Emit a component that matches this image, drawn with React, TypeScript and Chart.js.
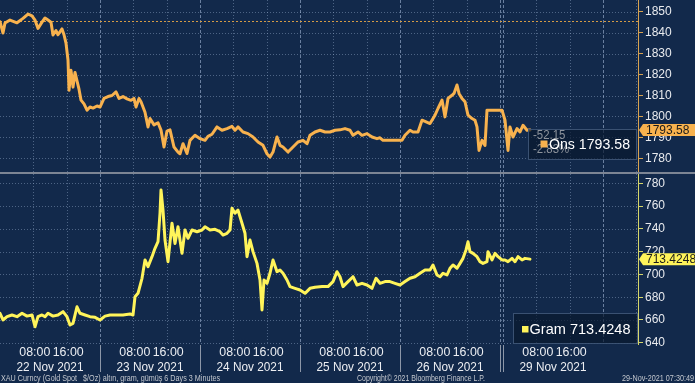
import React, { useEffect, useRef } from 'react';
import { Chart, registerables } from 'chart.js';

Chart.register(...registerables);

// ---------------- data ----------------
// time offsets in trading hours from 22 Nov 2021 00:00 (weekend collapsed)
const ONS_HOURS = [
  0, 0.72, 1.2, 2.4, 4.08, 5.52, 6.72, 7.68, 8.4, 9.12, 10.08, 10.8, 11.52, 12.24, 12.72, 13.44, 13.92, 14.88, 15.36, 15.84,
  16.32, 16.56, 17.04, 17.52, 18, 18.48, 18.96, 19.44, 20.16, 20.88, 21.6, 22.32, 23.28, 24, 24.96, 25.92, 26.88, 27.84, 28.56, 29.52,
  30.48, 31.44, 32.16, 32.64, 33.36, 33.84, 34.8, 35.52, 36, 36.96, 37.92, 38.64, 39.36, 40.08, 40.8, 41.76, 42.72, 43.2, 43.92, 44.88,
  45.6, 46.8, 48, 49.2, 49.92, 50.88, 52.08, 53.28, 54.48, 55.68, 56.4, 57.12, 58.32, 59.52, 60.72, 61.92, 63.12, 64.08, 64.8, 65.52,
  66.48, 67.2, 67.92, 69.12, 70.32, 71.52, 72.72, 73.68, 74.4, 75.6, 76.8, 78, 79.2, 80.4, 81.6, 82.8, 84, 84.72, 85.92, 86.88,
  88.08, 89.28, 90.48, 91.2, 91.92, 96.48, 97.2, 98.4, 99.12, 100.32, 101.28, 102, 103.2, 104.4, 105.12, 106.08, 106.8, 107.52, 108.48, 108.96,
  109.68, 110.16, 110.88, 111.6, 112.32, 113.28, 114, 114.48, 114.96, 115.68, 116.4, 116.88, 120.48, 121.2, 121.92, 122.4, 123.12, 124.08, 124.8, 125.52,
  126.48, 127.2,
];
const ONS_VALUES = [
  1845.2, 1839.8, 1844.6, 1846.0, 1844.7, 1846.8, 1848.9, 1848.0, 1846.0, 1842.0, 1845.0, 1847.0, 1846.0, 1845.0, 1838.9, 1841.0, 1839.0, 1841.8, 1839.0, 1835.0,
  1826.9, 1812.5, 1822.0, 1814.0, 1821.0, 1817.0, 1813.0, 1807.8, 1806.0, 1803.0, 1804.5, 1804.0, 1805.0, 1804.5, 1808.6, 1809.5, 1810.0, 1811.7, 1808.6, 1809.5,
  1808.4, 1807.7, 1808.6, 1804.5, 1808.6, 1807.0, 1802.0, 1795.0, 1799.0, 1796.0, 1797.0, 1793.5, 1785.4, 1793.0, 1793.6, 1785.4, 1783.0, 1782.2, 1787.0, 1782.3,
  1788.6, 1791.0, 1789.4, 1788.6, 1790.5, 1791.5, 1795.0, 1793.4, 1794.2, 1795.3, 1793.4, 1795.0, 1792.6, 1791.8, 1790.2, 1787.8, 1786.2, 1782.2, 1780.6, 1783.0,
  1790.2, 1786.2, 1785.4, 1783.0, 1785.4, 1787.8, 1788.6, 1787.0, 1791.0, 1792.6, 1793.4, 1792.6, 1792.6, 1793.4, 1793.6, 1794.2, 1793.4, 1791.0, 1792.6, 1791.0,
  1791.8, 1790.2, 1789.4, 1789.8, 1788.6, 1788.6, 1791.0, 1793.4, 1792.6, 1792.6, 1798.2, 1797.6, 1796.6, 1800.6, 1803.8, 1807.8, 1799.8, 1808.6, 1810.1, 1811.0,
  1815.0, 1811.0, 1808.6, 1807.0, 1800.6, 1799.0, 1798.2, 1795.0, 1783.8, 1788.6, 1786.2, 1803.0, 1803.0, 1798.2, 1783.8, 1795.0, 1790.2, 1794.2, 1792.6, 1795.8,
  1793.4, 1793.58,
];

const GRAM_HOURS = [
  0, 0.72, 1.68, 2.88, 4.08, 5.28, 6.48, 7.68, 8.4, 9.12, 10.08, 10.8, 11.52, 12.72, 13.92, 15.12, 16.08, 16.8, 17.52, 18.48,
  19.2, 20.4, 21.6, 22.8, 24, 25.2, 26.4, 28.08, 29.52, 31.2, 31.92, 32.4, 33.12, 34.08, 34.8, 35.52, 36.48, 37.2, 37.92, 38.4,
  38.64, 39.12, 39.6, 40.32, 41.28, 42, 42.72, 43.68, 44.4, 45.12, 46.08, 47.28, 48.48, 49.2, 50.4, 51.6, 52.8, 53.52, 54.48, 55.2,
  55.68, 56.4, 57.12, 58.08, 58.8, 59.28, 60, 60.72, 61.68, 62.4, 62.88, 63.36, 64.08, 64.8, 65.52, 66.48, 67.2, 67.92, 68.88, 69.6,
  70.8, 72, 73.2, 74.4, 75.6, 77.28, 78.72, 79.92, 80.88, 81.6, 82.32, 83.52, 84.72, 85.68, 86.88, 88.08, 89.28, 90.24, 91.2, 92.4,
  93.6, 94.8, 96, 97.2, 98.4, 99.6, 100.8, 102, 103.2, 103.92, 104.88, 105.6, 106.32, 107.28, 108, 108.72, 109.68, 110.4, 111.12, 111.84,
  112.32, 112.8, 113.52, 114.48, 115.2, 115.92, 116.88, 117.12, 118.08, 118.8, 119.52, 120.48, 121.2, 121.92, 122.88, 123.6, 124.32, 125.28, 126, 127.2,
];
const GRAM_VALUES = [
  665.9, 660.0, 662.9, 664.4, 662.9, 665.9, 663.4, 664.4, 654.1, 662.9, 664.4, 662.9, 665.9, 663.4, 664.4, 667.3, 662.9, 655.6, 657.0, 671.6,
  665.9, 664.4, 662.9, 662.3, 660.0, 663.4, 664.4, 664.4, 664.4, 665.3, 664.4, 680.4, 683.4, 696.6, 712.7, 706.8, 715.6, 722.9, 728.7, 753.7,
  774.1, 756.5, 730.2, 711.2, 744.9, 727.1, 741.9, 718.5, 739.0, 731.7, 739.0, 737.5, 739.0, 741.9, 739.0, 739.6, 737.5, 734.6, 736.1, 739.0,
  758.1, 753.7, 756.5, 744.9, 736.1, 715.6, 730.2, 720.0, 709.7, 695.1, 668.8, 695.1, 692.2, 701.0, 712.7, 702.4, 703.8, 701.0, 695.1, 689.3,
  687.8, 686.3, 683.4, 687.8, 688.8, 689.3, 689.3, 693.7, 702.4, 698.0, 689.3, 693.7, 698.0, 690.7, 692.2, 690.7, 687.8, 696.6, 692.2, 693.7,
  693.7, 692.2, 690.7, 693.7, 696.6, 698.0, 701.0, 703.8, 703.8, 708.3, 699.5, 698.0, 701.0, 699.5, 705.4, 708.3, 705.4, 709.7, 714.1, 721.5,
  728.7, 720.0, 718.5, 715.6, 711.2, 709.7, 711.2, 720.0, 712.7, 718.5, 715.6, 712.7, 712.7, 711.2, 714.1, 711.2, 715.6, 712.7, 714.1, 713.4248,
];

const ONS_TICKS = [1780, 1790, 1800, 1810, 1820, 1830, 1840, 1850];
const GRAM_TICKS = [640, 660, 680, 700, 720, 740, 760, 780];
const DAY_LABELS = ['22 Nov 2021', '23 Nov 2021', '24 Nov 2021', '25 Nov 2021', '26 Nov 2021', '29 Nov 2021'];
const DAY_STARTS = [0, 24, 48, 72, 96, 120.72];
const NEXT_DAY_START = 144.72;
const DAY_BOUNDARIES = [24, 48, 72, 96, 120, 120.72, 144.72];
const TIME_LABELS = ['08:00', '16:00'];
const TIME_OFFSETS = [8, 16];
const ONS_PREV_CLOSE = 1845.73;
const ONS_CHANGE = '-52.15';
const ONS_CHANGE_PCT = '-2.83%';
const ONS_NAME = 'Ons';
const GRAM_NAME = 'Gram';
const FOOTER_LEFT = 'XAU Curncy (Gold Spot   $/Oz) altın, gram, gümüş 6 Days 3 Minutes';
const FOOTER_CENTER = 'Copyright© 2021 Bloomberg Finance L.P.';
const FOOTER_RIGHT = '29-Nov-2021 07:30:49';

// ---------------- styling / layout ----------------
const W = 695;
const H = 383;
const TOP_H = 174;
const BOT_H = H - TOP_H;
const AXIS_W = 57;
const X_MAX = 153.12;
const BG = '#12294b';
const ONS_COLOR = '#f8b24e';
const GRAM_COLOR = '#fff45a';
const ONS_AXIS = '#d9a350';
const GRAM_AXIS = '#d6d66a';
const TICK_TEXT = '#e8eaee';
const GRID = 'rgba(150,172,205,0.45)';
const GRID_DAY = 'rgba(165,185,215,0.6)';
const FONT = "'Liberation Sans', Arial, sans-serif";

function textScale(ctx: CanvasRenderingContext2D, sample: string, px: number, target: number) {
  ctx.save();
  ctx.font = `${px}px ${FONT}`;
  const w = ctx.measureText(sample).width;
  ctx.restore();
  return target / w;
}

function drawText(
  ctx: CanvasRenderingContext2D, text: string, x: number, y: number, px: number, sx: number,
  align: 'left' | 'center' | 'right', color: string,
) {
  ctx.save();
  ctx.font = `${px}px ${FONT}`;
  ctx.fillStyle = color;
  ctx.textBaseline = 'middle';
  ctx.textAlign = 'left';
  const w = ctx.measureText(text).width * sx;
  let left = x;
  if (align === 'center') left = x - w / 2;
  else if (align === 'right') left = x - w;
  ctx.translate(left, y);
  ctx.scale(sx, 1);
  ctx.fillText(text, 0, 0);
  ctx.restore();
}

function vline(ctx: CanvasRenderingContext2D, x: number, y1: number, y2: number) {
  ctx.beginPath();
  ctx.moveTo(x, y1);
  ctx.lineTo(x, y2);
  ctx.stroke();
}

function drawGrid(chart: any, ticks: number[]) {
  const { ctx, chartArea: a } = chart;
  const xs = chart.scales.x;
  const ys = chart.scales.y;
  ctx.save();
  ctx.lineWidth = 1;
  ctx.strokeStyle = GRID;
  ctx.setLineDash([1, 2]);
  for (const v of ticks) {
    const py = Math.round(ys.getPixelForValue(v)) + 0.5;
    ctx.beginPath();
    ctx.moveTo(a.left, py);
    ctx.lineTo(a.right, py);
    ctx.stroke();
  }
  for (const d of [...DAY_STARTS, NEXT_DAY_START]) {
    for (const o of TIME_OFFSETS) {
      const h = d + o;
      if (h >= X_MAX) continue;
      vline(ctx, Math.round(xs.getPixelForValue(h)) + 0.5, a.top, a.bottom);
    }
  }
  ctx.strokeStyle = GRID_DAY;
  ctx.setLineDash([3, 2]);
  for (const h of DAY_BOUNDARIES) {
    vline(ctx, Math.round(xs.getPixelForValue(h)) + 0.5, a.top, a.bottom);
  }
  ctx.restore();
}

function drawTag(ctx: CanvasRenderingContext2D, xLeft: number, yc: number, text: string, fill: string) {
  const h = 12;
  const tip = 4;
  ctx.save();
  ctx.fillStyle = fill;
  ctx.beginPath();
  ctx.moveTo(xLeft, yc);
  ctx.lineTo(xLeft + tip, yc - h / 2);
  ctx.lineTo(W, yc - h / 2);
  ctx.lineTo(W, yc + h / 2);
  ctx.lineTo(xLeft + tip, yc + h / 2);
  ctx.closePath();
  ctx.fill();
  ctx.restore();
  drawText(ctx, text, xLeft + tip + 3, yc + 0.5, 12, 1, 'left', '#1b1b1b');
}

function drawLegendBox(ctx: CanvasRenderingContext2D, x1: number, y1: number, x2: number, y2: number) {
  ctx.save();
  ctx.fillStyle = 'rgba(9,24,45,0.7)';
  ctx.fillRect(x1, y1, x2 - x1, y2 - y1);
  ctx.strokeStyle = 'rgba(70,95,130,0.8)';
  ctx.lineWidth = 1;
  ctx.strokeRect(x1 + 0.5, y1 + 0.5, x2 - x1 - 1, y2 - y1 - 1);
  ctx.restore();
}

function yAxis(min: number, max: number, ticks: number[], axisColor: string) {
  return {
    position: 'right',
    min,
    max,
    afterBuildTicks: (s: any) => {
      s.ticks = ticks.map((v) => ({ value: v }));
    },
    afterFit: (s: any) => {
      s.width = AXIS_W;
      s.paddingTop = 0;
      s.paddingBottom = 0;
    },
    grid: { display: true, drawOnChartArea: false, drawTicks: true, tickLength: 5, tickColor: axisColor, tickWidth: 1 },
    border: { display: true, color: axisColor, width: 1 },
    ticks: {
      color: TICK_TEXT,
      font: { family: FONT, size: 12 },
      padding: 2,
      autoSkip: false,
      callback: (v: any) => String(v),
    },
  };
}

function lineDataset(hours: number[], values: number[], color: string) {
  return {
    data: hours.map((h, i) => ({ x: h, y: values[i] })),
    borderColor: color,
    borderWidth: 3,
    pointRadius: 0,
    tension: 0,
    fill: false,
    borderJoinStyle: 'round',
    borderCapStyle: 'round',
  };
}

const onsPlugin = {
  id: 'onsDecor',
  beforeDatasetsDraw(chart: any) {
    drawGrid(chart, ONS_TICKS);
    const { ctx, chartArea: a } = chart;
    const py = Math.round(chart.scales.y.getPixelForValue(ONS_PREV_CLOSE)) + 0.5;
    ctx.save();
    ctx.strokeStyle = '#d49b45';
    ctx.lineWidth = 1;
    ctx.setLineDash([2, 2]);
    ctx.beginPath();
    ctx.moveTo(a.left, py);
    ctx.lineTo(a.right, py);
    ctx.stroke();
    ctx.restore();
  },
  afterDatasetsDraw(chart: any) {
    const { ctx, chartArea: a } = chart;
    const bx2 = a.right - 1;
    const bx1 = bx2 - 109;
    const by2 = a.bottom - 12;
    const by1 = by2 - 31;
    drawLegendBox(ctx, bx1, by1, bx2, by2);
    drawText(ctx, ONS_CHANGE, bx1 + 5, by1 + 6.5, 12, 0.95, 'left', '#8e949c');
    drawText(ctx, ONS_CHANGE_PCT, bx1 + 5, by1 + 21, 12, 0.95, 'left', '#8e949c');
    ctx.save();
    ctx.fillStyle = ONS_COLOR;
    ctx.fillRect(bx1 + 12.5, by1 + 11.5, 7, 7);
    ctx.restore();
    const label = `${ONS_NAME} ${ONS_VALUES[ONS_VALUES.length - 1].toFixed(2)}`;
    const sx = textScale(ctx, label, 15, 81);
    drawText(ctx, label, bx1 + 21, by1 + 16, 15, sx, 'left', '#ffffff');
  },
  afterDraw(chart: any) {
    const { ctx, chartArea: a } = chart;
    const last = ONS_VALUES[ONS_VALUES.length - 1];
    drawTag(ctx, a.right + 1, chart.scales.y.getPixelForValue(last), last.toFixed(2), ONS_COLOR);
    ctx.save();
    ctx.fillStyle = '#7d8594';
    ctx.fillRect(0, TOP_H - 2, W, 2);
    ctx.restore();
  },
};

const gramPlugin = {
  id: 'gramDecor',
  beforeDatasetsDraw(chart: any) {
    drawGrid(chart, GRAM_TICKS);
  },
  afterDatasetsDraw(chart: any) {
    const { ctx, chartArea: a } = chart;
    const bx2 = a.right;
    const bx1 = bx2 - 125;
    const by2 = a.bottom;
    const by1 = by2 - 31;
    drawLegendBox(ctx, bx1, by1, bx2, by2);
    ctx.save();
    ctx.fillStyle = GRAM_COLOR;
    ctx.fillRect(bx1 + 9, by1 + 13, 6.5, 6.5);
    ctx.restore();
    const label = `${GRAM_NAME} ${GRAM_VALUES[GRAM_VALUES.length - 1].toFixed(4)}`;
    const sx = textScale(ctx, label, 15, 101);
    drawText(ctx, label, bx1 + 16.5, by1 + 16.5, 15, sx, 'left', '#ffffff');
  },
  afterDraw(chart: any) {
    const { ctx, chartArea: a } = chart;
    const xs = chart.scales.x;
    const last = GRAM_VALUES[GRAM_VALUES.length - 1];
    drawTag(ctx, a.right + 1, chart.scales.y.getPixelForValue(last), last.toFixed(4), GRAM_COLOR);

    // label-area separators
    ctx.save();
    ctx.strokeStyle = '#8d97a8';
    ctx.lineWidth = 1;
    for (const h of DAY_BOUNDARIES) {
      if (h > DAY_STARTS[DAY_STARTS.length - 1]) continue;
      vline(ctx, Math.round(xs.getPixelForValue(h)) + 0.5, a.bottom + 1, a.bottom + 28);
    }
    ctx.restore();

    const timeSx = textScale(ctx, TIME_LABELS[0], 12, 31);
    const dateSx = textScale(ctx, DAY_LABELS[4], 13.5, 67);
    DAY_STARTS.forEach((d, i) => {
      TIME_OFFSETS.forEach((o, k) => {
        drawText(ctx, TIME_LABELS[k], xs.getPixelForValue(d + o) + 1.5, a.bottom + 9, 12, timeSx, 'center', '#eceef2');
      });
      drawText(ctx, DAY_LABELS[i], xs.getPixelForValue(d + 12), a.bottom + 23, 13.5, dateSx, 'center', '#eceef2');
    });

    const fy = a.bottom + 35;
    drawText(ctx, FOOTER_LEFT, 1, fy, 9, textScale(ctx, FOOTER_LEFT, 9, 219), 'left', '#c3c7ce');
    drawText(ctx, FOOTER_CENTER, 357, fy, 9, textScale(ctx, FOOTER_CENTER, 9, 128), 'left', '#c3c7ce');
    drawText(ctx, FOOTER_RIGHT, W - 1, fy, 9, textScale(ctx, FOOTER_RIGHT, 9, 72), 'right', '#c3c7ce');
  },
};

function makeConfig(
  hours: number[], values: number[], color: string, yMin: number, yMax: number, ticks: number[],
  axisColor: string, padBottom: number, plugin: any,
): any {
  return {
    type: 'line',
    data: { datasets: [lineDataset(hours, values, color)] },
    options: {
      responsive: false,
      maintainAspectRatio: false,
      animation: false,
      events: [],
      layout: { padding: { left: 0, right: 0, top: 0, bottom: padBottom } },
      plugins: { legend: { display: false }, tooltip: { enabled: false } },
      scales: {
        x: { type: 'linear', min: 0, max: X_MAX, display: false },
        y: yAxis(yMin, yMax, ticks, axisColor),
      },
    },
    plugins: [plugin],
  };
}

export default function App() {
  const topRef = useRef<HTMLCanvasElement>(null);
  const botRef = useRef<HTMLCanvasElement>(null);

  useEffect(() => {
    // top panel: 1850 at 11.7px, 2.095 px per unit, plot height 172
    const topMax = 1850 + 11.7 / 2.095;
    const topMin = topMax - 172 / 2.095;
    // bottom panel: 780 at 9.3px, 1.139 px per unit, plot height 170
    const botMax = 780 + 9.3 / 1.139;
    const botMin = botMax - 170 / 1.139;
    const top = new Chart(
      topRef.current as HTMLCanvasElement,
      makeConfig(ONS_HOURS, ONS_VALUES, ONS_COLOR, topMin, topMax, ONS_TICKS, ONS_AXIS, 2, onsPlugin),
    );
    const bot = new Chart(
      botRef.current as HTMLCanvasElement,
      makeConfig(GRAM_HOURS, GRAM_VALUES, GRAM_COLOR, botMin, botMax, GRAM_TICKS, GRAM_AXIS, BOT_H - 170, gramPlugin),
    );
    return () => {
      top.destroy();
      bot.destroy();
    };
  }, []);

  return (
    <div style={{ position: 'fixed', left: 0, top: 0, width: W, height: H, background: BG, overflow: 'hidden' }}>
      <canvas
        ref={topRef}
        width={W}
        height={TOP_H}
        style={{ position: 'absolute', left: 0, top: 0, width: W, height: TOP_H }}
      />
      <canvas
        ref={botRef}
        width={W}
        height={BOT_H}
        style={{ position: 'absolute', left: 0, top: TOP_H, width: W, height: BOT_H }}
      />
    </div>
  );
}
